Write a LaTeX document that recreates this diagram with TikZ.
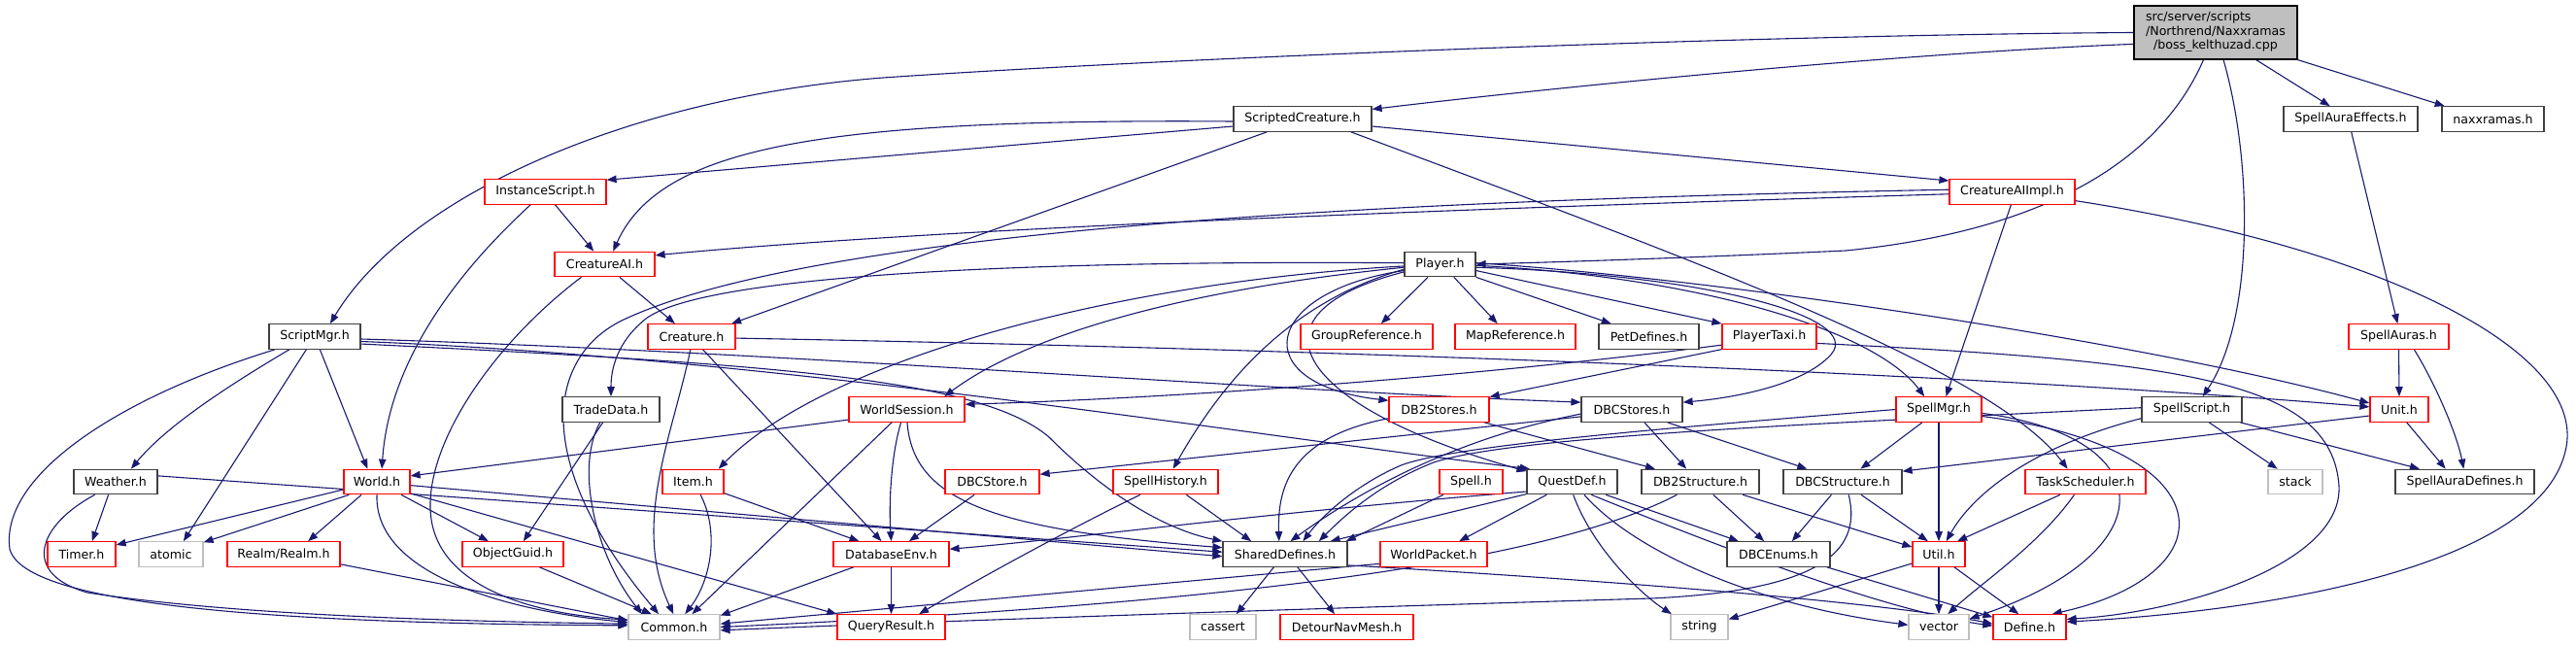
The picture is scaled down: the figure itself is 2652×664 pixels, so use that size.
\documentclass[tikz,border=0pt]{standalone}
\usepackage{fontspec}
\setmainfont{DejaVu Sans}
\usepackage{xcolor}
\usepackage{tikz}
\usetikzlibrary{shapes,arrows,arrows.meta,positioning}

\definecolor{edgeblue}{HTML}{191970}
\definecolor{truncred}{HTML}{FF0000}
\definecolor{fileblack}{HTML}{404040}
\definecolor{sysgray}{HTML}{BFBFBF}
\newcommand{\hfont}{\fontsize{12.6}{14.4}\selectfont}
\pgfdeclarelayer{edges}
\pgfsetlayers{edges,main}

\begin{document}
\begin{tikzpicture}[
    x=1pt, y=-1pt,
    >={Triangle[length=10pt,width=7.5pt]},
    hbox/.style={draw, rectangle, fill=white, line width=1.2pt, minimum height=25.5pt, inner xsep=1pt, inner ysep=0pt, font=\hfont},
    hfile/.style={hbox, draw=fileblack},
    htrunc/.style={hbox, draw=truncred},
    hsys/.style={hbox, draw=sysgray},
    dep/.style={->, draw=edgeblue, line width=1.1pt}
]
    \useasboundingbox (0,0) rectangle (2652,664);

    % the file itself
    \node[hbox, draw=black, fill=sysgray, minimum width=168pt, minimum height=55pt] (root) at (2281,33.5)
        {\begin{tabular}{@{}l@{}}src/server/scripts\\/Northrend/Naxxramas\\\multicolumn{1}{@{}c@{}}{/boss\_kelthuzad.cpp}\end{tabular}};

    % row 1 and 2
    \node[hfile, minimum width=142pt] (scripted) at (1341,122.5) {ScriptedCreature.h};
    \node[hfile, minimum width=138pt] (auraeff) at (2420,122.5) {SpellAuraEffects.h};
    \node[hfile, minimum width=105pt] (naxx) at (2566.5,122.5) {naxxramas.h};
    \node[htrunc, minimum width=125pt] (instscript) at (561.5,197.5) {InstanceScript.h};
    \node[htrunc, minimum width=129pt] (aiimpl) at (2071.5,197.5) {CreatureAIImpl.h};

    % row 3 and 4
    \node[htrunc, minimum width=103pt] (creatureai) at (622.5,272) {CreatureAI.h};
    \node[hfile, minimum width=73pt] (player) at (1482.5,272) {Player.h};
    \node[hfile, minimum width=94pt] (scriptmgr) at (324,346.5) {ScriptMgr.h};
    \node[htrunc, minimum width=90pt] (creature) at (712,346.5) {Creature.h};
    \node[htrunc, minimum width=136pt] (groupref) at (1407,346.5) {GroupReference.h};
    \node[htrunc, minimum width=124pt] (mapref) at (1560,346.5) {MapReference.h};
    \node[hfile, minimum width=103pt] (petdef) at (1697.5,346.5) {PetDefines.h};
    \node[htrunc, minimum width=97pt] (taxi) at (1821.5,346.5) {PlayerTaxi.h};
    \node[htrunc, minimum width=103pt] (spellauras) at (2469.5,346.5) {SpellAuras.h};

    % row 5
    \node[hfile, minimum width=100pt] (tradedata) at (629,421.5) {TradeData.h};
    \node[htrunc, minimum width=119pt] (session) at (933.5,421.5) {WorldSession.h};
    \node[htrunc, minimum width=103pt] (db2stores) at (1481.5,421.5) {DB2Stores.h};
    \node[hfile, minimum width=104pt] (dbcstores) at (1680,421.5) {DBCStores.h};
    \node[htrunc, minimum width=88pt] (spellmgr) at (1996,421.5) {SpellMgr.h};
    \node[hfile, minimum width=103pt] (spellscript) at (2256.5,421.5) {SpellScript.h};
    \node[htrunc, minimum width=60pt] (unit) at (2470,421.5) {Unit.h};

    % row 6
    \node[hfile, minimum width=86pt] (weather) at (119,496) {Weather.h};
    \node[htrunc, minimum width=68pt] (world) at (388,496) {World.h};
    \node[htrunc, minimum width=63pt] (item) at (713.5,496) {Item.h};
    \node[htrunc, minimum width=97pt] (dbcstore) at (1021.5,496) {DBCStore.h};
    \node[htrunc, minimum width=108pt] (spellhist) at (1200,496) {SpellHistory.h};
    \node[htrunc, minimum width=65pt] (spell) at (1514.5,496) {Spell.h};
    \node[hfile, minimum width=93pt] (questdef) at (1618.5,496) {QuestDef.h};
    \node[hfile, minimum width=121pt] (db2struct) at (1750.5,496) {DB2Structure.h};
    \node[hfile, minimum width=122pt] (dbcstruct) at (1897,496) {DBCStructure.h};
    \node[htrunc, minimum width=124pt] (tasksched) at (2147,496) {TaskScheduler.h};
    \node[hsys, minimum width=56pt] (stack) at (2363,496) {stack};
    \node[hfile, minimum width=143pt] (auradefs) at (2537.5,496) {SpellAuraDefines.h};

    % row 7
    \node[htrunc, minimum width=70pt] (timer) at (84,570.5) {Timer.h};
    \node[hsys, minimum width=66pt] (atomic) at (176,570.5) {atomic};
    \node[htrunc, minimum width=116pt] (realm) at (292,570.5) {Realm/Realm.h};
    \node[htrunc, minimum width=104pt] (objguid) at (528,570.5) {ObjectGuid.h};
    \node[htrunc, minimum width=119pt] (dbenv) at (917.5,570.5) {DatabaseEnv.h};
    \node[hfile, minimum width=128pt] (shared) at (1323,570.5) {SharedDefines.h};
    \node[htrunc, minimum width=110pt] (wpacket) at (1476,570.5) {WorldPacket.h};
    \node[hfile, minimum width=106pt] (dbcenums) at (1831,570.5) {DBCEnums.h};
    \node[htrunc, minimum width=54pt] (util) at (1996,570.5) {Util.h};

    % row 8
    \node[hsys, minimum width=94pt] (common) at (694,645.5) {Common.h};
    \node[htrunc, minimum width=111pt] (queryres) at (917.5,645.5) {QueryResult.h};
    \node[hsys, minimum width=68pt] (cassert) at (1259,645.5) {cassert};
    \node[htrunc, minimum width=137pt] (detour) at (1386.5,645.5) {DetourNavMesh.h};
    \node[hsys, minimum width=59pt] (string) at (1749.5,645.5) {string};
    \node[hsys, minimum width=62pt] (vector) at (1996,645.5) {vector};
    \node[htrunc, minimum width=75pt] (define) at (2089.5,645.5) {Define.h};

    \begin{pgfonlayer}{edges}
    % from the file
    \draw[dep] (root.188) .. controls (1950,55) and (1600,90) .. (scripted.8);
    \draw[dep] (root.180) .. controls (1800,36) and (1200,60) .. (909,80) .. controls (650,100) and (420,200) .. (scriptmgr.40);
    \draw[dep] (root.246) .. controls (2230,150) and (2130,235) .. (1900,258) .. controls (1750,265) and (1600,270) .. (player.east);
    \draw[dep] (root.286) .. controls (2320,170) and (2320,330) .. (spellscript.50);
    \draw[dep] (root.326) -- (auraeff.148);
    \draw[dep] (root.south east) -- (naxx.165);

    % ScriptedCreature.h
    \draw[dep] (scripted.186) -- (instscript.11);
    \draw[dep] (scripted.182) .. controls (850,122) and (680,150) .. (creatureai.57);
    \draw[dep] (scripted.200) -- (creature.18);
    \draw[dep] (scripted.-6) -- (aiimpl.170);
    \draw[dep] (scripted.-15) .. controls (1750,270) and (2050,380) .. (tasksched.144);

    % InstanceScript.h, CreatureAIImpl.h, CreatureAI.h
    \draw[dep] (instscript.-53) -- (creatureai.130);
    \draw[dep] (instscript.221) .. controls (460,290) and (400,380) .. (world.69);
    \draw[dep] (aiimpl.182) .. controls (1600,212) and (1000,232) .. (creatureai.10);
    \draw[dep] (aiimpl.178) .. controls (1500,205) and (850,230) .. (640,330) .. controls (560,370) and (550,480) .. (common.140);
    \draw[dep] (aiimpl.265) -- (spellmgr.61);
    \draw[dep] (aiimpl.-8) .. controls (2450,255) and (2660,360) .. (2642,460) .. controls (2620,580) and (2350,628) .. (define.8);
    \draw[dep] (creatureai.-41) -- (creature.142);
    \draw[dep] (creatureai.209) .. controls (500,360) and (430,470) .. (445,540) .. controls (460,610) and (560,633) .. (common.171);

    % Player.h
    \draw[dep] (player.227) -- (groupref.42);
    \draw[dep] (player.-43) -- (mapref.144);
    \draw[dep] (player.south east) -- (petdef.161);
    \draw[dep] (player.-10) -- (taxi.north west);
    \draw[dep] (player.190) .. controls (1300,300) and (1280,395) .. (db2stores.170);
    \draw[dep] (player.-5) .. controls (1750,282) and (1920,325) .. (1885,365) .. controls (1855,398) and (1780,410) .. (dbcstores.8);
    \draw[dep] (player.-2) .. controls (1750,285) and (1930,340) .. (spellmgr.138);
    \draw[dep] (player.2) .. controls (1750,285) and (2200,350) .. (unit.168);
    \draw[dep] (player.178) .. controls (1100,268) and (730,280) .. (665,328) .. controls (635,352) and (629,380) .. (tradedata.north);
    \draw[dep] (player.185) .. controls (1200,300) and (1050,350) .. (session.19);
    \draw[dep] (player.183) .. controls (1150,290) and (850,370) .. (item.27);
    \draw[dep] (player.188) .. controls (1330,310) and (1260,390) .. (spellhist.60);
    \draw[dep] (player.192) .. controls (1270,325) and (1340,420) .. (questdef.167);

    % ScriptMgr.h
    \draw[dep] (scriptmgr.207) .. controls (230,400) and (170,440) .. (weather.40);
    \draw[dep] (scriptmgr.-68) -- (world.126);
    \draw[dep] (scriptmgr.237) -- (atomic.46);
    \draw[dep] (scriptmgr.198) .. controls (120,410) and (0,490) .. (10,565) .. controls (25,625) and (300,642) .. (common.178);
    \draw[dep] (scriptmgr.-3) .. controls (800,362) and (1300,402) .. (dbcstores.172);
    \draw[dep] (scriptmgr.-6) .. controls (800,368) and (1300,450) .. (questdef.163);
    \draw[dep] (scriptmgr.-9) .. controls (800,375) and (1010,390) .. (1080,450) .. controls (1140,510) and (1200,545) .. (shared.north west);

    % Weather.h, World.h
    \draw[dep] (weather.241) -- (timer.51);
    \draw[dep] (weather.212) .. controls (40,540) and (20,590) .. (90,610) .. controls (250,635) and (500,640) .. (common.176);
    \draw[dep] (weather.8) -- (shared.178);
    \draw[dep] (world.193) -- (timer.15);
    \draw[dep] (world.205) -- (atomic.20);
    \draw[dep] (world.220) -- (realm.28);
    \draw[dep] (world.-28) -- (objguid.152);
    \draw[dep] (world.south) .. controls (385,600) and (550,632) .. (common.174);
    \draw[dep] (world.-19) -- (queryres.north west);
    \draw[dep] (world.-6) -- (shared.182);

    % WorldSession.h, Item.h, Creature.h, TradeData.h
    \draw[dep] (session.190) -- (world.10);
    \draw[dep] (session.221) -- (common.36);
    \draw[dep] (session.246) .. controls (917,470) and (915,520) .. (dbenv.north);
    \draw[dep] (session.-88) .. controls (940,515) and (1020,545) .. (shared.174);
    \draw[dep] (item.-20) -- (dbenv.158);
    \draw[dep] (item.-60) .. controls (742,550) and (730,600) .. (common.50);
    \draw[dep] (creature.-49) -- (dbenv.127);
    \draw[dep] (creature.265) .. controls (692,450) and (650,540) .. (common.93);
    \draw[dep] (creature.-2) .. controls (1300,358) and (2000,382) .. (unit.175);
    \draw[dep] (tradedata.238) -- (objguid.51);
    \draw[dep] (tradedata.230) .. controls (592,480) and (612,570) .. (common.158);

    % ObjectGuid.h, Realm.h, DatabaseEnv.h, DBCStore.h, SpellHistory.h
    \draw[dep] (objguid.-26) -- (common.150);
    \draw[dep] (realm.-10) -- (common.172);
    \draw[dep] (dbenv.199) -- (common.14);
    \draw[dep] (dbenv.south) -- (queryres.north);
    \draw[dep] (dbcstore.216) -- (dbenv.36);
    \draw[dep] (spellhist.207) .. controls (1100,545) and (1000,600) .. (queryres.25);
    \draw[dep] (spellhist.-32) -- (shared.159);

    % SharedDefines.h, Spell.h, QuestDef.h, WorldPacket.h
    \draw[dep] (shared.229) -- (cassert.44);
    \draw[dep] (shared.-46) -- (detour.133);
    \draw[dep] (shared.-10) .. controls (1700,600) and (1950,622) .. (define.175);
    \draw[dep] (spell.205) -- (shared.12.8);
    \draw[dep] (questdef.195) -- (shared.16);
    \draw[dep] (questdef.192) .. controls (1300,528) and (1100,555) .. (dbenv.5);
    \draw[dep] (questdef.207) -- (wpacket.27);
    \draw[dep] (questdef.-85) .. controls (1640,565) and (1690,612) .. (string.155);
    \draw[dep] (questdef.-21) -- (dbcenums.162);
    \draw[dep] (questdef.-47) .. controls (1680,565) and (1800,622) .. (vector.176);
    \draw[dep] (questdef.-34) .. controls (1800,575) and (1950,630) .. (define.178);
    \draw[dep] (wpacket.190) -- (common.4);

    % DB2Stores.h, DBCStores.h
    \draw[dep] (db2stores.190) .. controls (1330,450) and (1315,500) .. (shared.115);
    \draw[dep] (db2stores.-16) -- (db2struct.164);
    \draw[dep] (dbcstores.185) .. controls (1480,455) and (1380,520) .. (shared.68);
    \draw[dep] (dbcstores.188) -- (dbcstore.9);
    \draw[dep] (dbcstores.-46) -- (db2struct.137);
    \draw[dep] (dbcstores.-20) -- (dbcstruct.160);

    % DB2Structure.h, DBCStructure.h, DBCEnums.h, Util.h
    \draw[dep] (db2struct.-45) -- (dbcenums.138);
    \draw[dep] (db2struct.-17) -- (util.165);
    \draw[dep] (db2struct.209) .. controls (1600,575) and (1300,620) .. (common.0);
    \draw[dep] (dbcstruct.229) -- (dbcenums.44);
    \draw[dep] (dbcstruct.-35) -- (util.130);
    \draw[dep] (dbcstruct.-65) .. controls (1918,570) and (1870,608) .. (1700,616) .. controls (1300,628) and (950,640) .. (common.-4);
    \draw[dep] (dbcenums.-15) -- (define.165);
    \draw[dep] (util.south) -- (vector.north);
    \draw[dep] (util.-40) -- (define.130);
    \draw[dep] (util.199) -- (string.15);

    % SpellMgr.h, SpellScript.h
    \draw[dep] (spellmgr.218) -- (dbcstruct.36);
    \draw[dep] (spellmgr.south) -- (util.north);
    \draw[dep] (spellmgr.180) .. controls (1750,438) and (1490,458) .. (1440,480) .. controls (1395,500) and (1362,530) .. (shared.36);
    \draw[dep] (spellmgr.-5) .. controls (2230,450) and (2230,570) .. (vector.15);
    \draw[dep] (spellmgr.-9) .. controls (2290,460) and (2300,590) .. (define.30);
    \draw[dep] (spellscript.190) .. controls (2090,460) and (2030,510) .. (util.60);
    \draw[dep] (spellscript.-37) -- (stack.144);
    \draw[dep] (spellscript.-15) -- (auradefs.164);
    \draw[dep] (spellscript.178) .. controls (1900,435) and (1560,448) .. (1476,476) .. controls (1420,498) and (1385,530) .. (shared.21);

    % Unit.h, SpellAuras.h, SpellAuraEffects.h
    \draw[dep] (unit.192) -- (dbcstruct.10);
    \draw[dep] (unit.-60) -- (auradefs.146);
    \draw[dep] (spellauras.south) -- (unit.north);
    \draw[dep] (spellauras.-40) .. controls (2510,400) and (2530,450) .. (auradefs.95);
    \draw[dep] (auraeff.-87) -- (spellauras.95);

    % TaskScheduler.h, PlayerTaxi.h
    \draw[dep] (tasksched.207) -- (util.35);
    \draw[dep] (tasksched.229) .. controls (2100,560) and (2040,600) .. (vector.55);
    \draw[dep] (taxi.190) .. controls (1500,390) and (1200,410) .. (session.5);
    \draw[dep] (taxi.195) -- (db2stores.14);
    \draw[dep] (taxi.-8) .. controls (2250,372) and (2400,392) .. (2408,500) .. controls (2412,580) and (2250,630) .. (define.12);
    \end{pgfonlayer}
\end{tikzpicture}
\end{document}
